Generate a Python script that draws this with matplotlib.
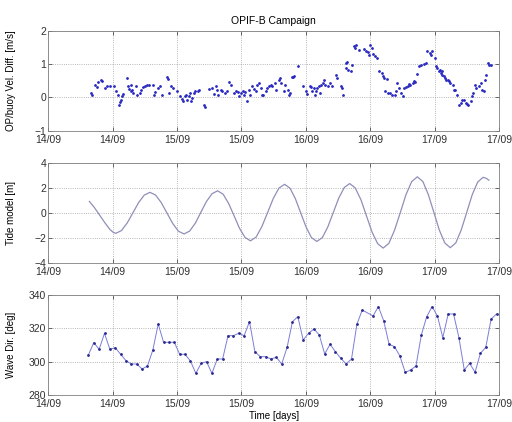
import numpy as np
import matplotlib
matplotlib.use("Agg")
import matplotlib.pyplot as plt

plt.rcParams['font.family'] = ['Liberation Sans', 'DejaVu Sans']

# velocity difference between OP and buoy (time in days of September)
vel_t = [14.33, 14.34, 14.36, 14.38, 14.39, 14.41, 14.42, 14.44, 14.46, 14.48,
         14.51, 14.53, 14.54, 14.55, 14.56, 14.565, 14.57, 14.58, 14.61, 14.62,
         14.63, 14.64, 14.645, 14.65, 14.66, 14.68, 14.69, 14.71, 14.72, 14.74,
         14.75, 14.77, 14.78, 14.81, 14.82, 14.83, 14.85, 14.87, 14.88, 14.92,
         14.93, 14.94, 14.95, 14.97, 15.00, 15.02, 15.04, 15.05,
         15.06, 15.07, 15.08, 15.09, 15.10, 15.11, 15.12, 15.13, 15.14, 15.16,
         15.17, 15.21, 15.22, 15.25, 15.27, 15.29, 15.30, 15.31, 15.32, 15.34,
         15.35, 15.37, 15.39, 15.40, 15.42, 15.44, 15.46, 15.47, 15.48, 15.50,
         15.51, 15.52, 15.53, 15.54, 15.56, 15.57, 15.58, 15.60, 15.61, 15.62,
         15.64, 15.65, 15.66, 15.67, 15.69, 15.70, 15.71, 15.73, 15.74, 15.76,
         15.77, 15.79, 15.80, 15.81, 15.83, 15.84, 15.86, 15.87,
         15.88, 15.89, 15.90, 15.91, 15.94, 15.98, 16.00, 16.01, 16.03, 16.04,
         16.05, 16.06, 16.07, 16.08, 16.09, 16.10, 16.11, 16.12, 16.13, 16.14,
         16.15, 16.17, 16.19, 16.20, 16.23, 16.24, 16.27, 16.28, 16.29, 16.31,
         16.315, 16.32, 16.33, 16.35, 16.355, 16.37, 16.38, 16.39, 16.41, 16.45,
         16.47, 16.48, 16.49, 16.50, 16.51, 16.52, 16.54, 16.55, 16.57, 16.59,
         16.60, 16.61, 16.615, 16.63, 16.635, 16.65, 16.67, 16.69,
         16.70, 16.71, 16.72, 16.74, 16.75, 16.76, 16.78, 16.79, 16.80, 16.81,
         16.83, 16.84, 16.85, 16.86, 16.88, 16.89, 16.92, 16.93, 16.94, 16.96,
         16.97, 16.98, 17.00, 17.01, 17.02, 17.03, 17.04, 17.05, 17.055, 17.06,
         17.07, 17.08, 17.09, 17.10, 17.11, 17.12, 17.14, 17.15, 17.16, 17.17,
         17.19, 17.20, 17.21, 17.23, 17.24, 17.25, 17.26, 17.28, 17.29, 17.30,
         17.31, 17.32, 17.34, 17.36, 17.37, 17.38, 17.39, 17.40, 17.41, 17.42,
         17.44]
vel_v = [0.13, 0.06, 0.38, 0.30, 0.45, 0.53, 0.48, 0.28, 0.35, 0.35,
         0.33, 0.18, 0.06, -0.22, -0.14, -0.07, 0.03, 0.10, 0.58, 0.33,
         0.26, 0.18, 0.38, 0.21, 0.13, 0.33, 0.08, 0.13, 0.23, 0.30,
         0.35, 0.38, 0.38, 0.36, 0.08, 0.16, 0.28, 0.33, 0.08, 0.60,
         0.56, 0.13, 0.33, 0.28, 0.18, 0.03, -0.04, -0.12,
         0.03, 0.08, -0.07, 0.03, 0.13, -0.12, -0.02, 0.13, 0.18, 0.20,
         0.23, -0.22, -0.30, 0.26, 0.28, 0.10, 0.33, 0.23, 0.08, 0.23,
         0.18, 0.13, 0.18, 0.46, 0.38, 0.13, 0.18, 0.16, 0.03, 0.13,
         0.18, 0.08, 0.16, -0.12, 0.23, 0.08, 0.33, 0.25, 0.18, 0.38,
         0.43, 0.28, 0.06, 0.08, 0.18, 0.28, 0.33, 0.38, 0.35, 0.43,
         0.23, 0.53, 0.58, 0.43, 0.18, 0.38, 0.23, 0.08,
         0.13, 0.60, 0.60, 0.63, 0.93, 0.33, 0.18, 0.10, 0.33, 0.30,
         0.18, 0.28, 0.08, 0.18, 0.28, 0.33, 0.13, 0.38, 0.43, 0.53,
         0.38, 0.35, 0.43, 0.33, 0.68, 0.58, 0.33, 0.28, 0.08, 1.03,
         0.88, 1.06, 0.83, 0.78, 0.98, 1.53, 1.48, 1.56, 1.43, 1.46,
         1.38, 1.36, 1.28, 1.56, 1.48, 1.30, 1.23, 1.18, 0.78, 0.73,
         0.63, 0.58, 0.18, 0.56, 0.13, 0.13, 0.08, 0.06,
         0.18, 0.43, 0.28, 0.13, 0.03, 0.28, 0.30, 0.35, 0.40, 0.38,
         0.43, 0.48, 0.46, 0.70, 0.93, 0.98, 1.00, 1.03, 1.38, 1.33,
         1.28, 1.38, 1.18, 0.93, 0.88, 0.78, 0.83, 0.73, 0.78, 0.68,
         0.63, 0.58, 0.53, 0.53, 0.48, 0.43, 0.38, 0.23, 0.23, 0.08,
         -0.22, -0.17, -0.07, -0.07, -0.17, -0.20, -0.22, -0.12, 0.03, 0.13,
         0.38, 0.28, 0.33, 0.43, 0.23, 0.18, 0.53, 0.68, 1.03, 0.98,
         0.98]

# tide model
tide_t = [14.32, 14.36, 14.40, 14.44, 14.48, 14.505, 14.525,
          14.569, 14.613, 14.658, 14.702, 14.746, 14.79,
          14.834, 14.878, 14.923, 14.967, 15.011, 15.055,
          15.098, 15.142, 15.185, 15.228, 15.272, 15.315,
          15.358, 15.400, 15.443, 15.485, 15.528, 15.57,
          15.614, 15.658, 15.703, 15.747, 15.791, 15.835,
          15.877, 15.918, 15.960, 16.002, 16.043, 16.085,
          16.128, 16.170, 16.213, 16.255, 16.298, 16.34,
          16.383, 16.427, 16.470, 16.513, 16.557, 16.60,
          16.644, 16.688, 16.733, 16.777, 16.821, 16.865,
          16.908, 16.950, 16.993, 17.035, 17.078, 17.12,
          17.163, 17.205, 17.248, 17.290, 17.333, 17.375,
          17.40, 17.42]
tide_v = [0.95, 0.45, -0.15, -0.75, -1.30, -1.52, -1.60,
          -1.38, -0.78, 0.04, 0.86, 1.46, 1.68,
          1.46, 0.85, 0.01, -0.82, -1.43, -1.65,
          -1.42, -0.79, 0.08, 0.94, 1.57, 1.80,
          1.53, 0.80, -0.20, -1.20, -1.93, -2.20,
          -1.90, -1.07, 0.06, 1.19, 2.02, 2.32,
          2.01, 1.18, 0.03, -1.11, -1.94, -2.25,
          -1.94, -1.09, 0.07, 1.22, 2.07, 2.38,
          2.03, 1.09, -0.20, -1.49, -2.43, -2.78,
          -2.40, -1.35, 0.07, 1.50, 2.54, 2.92,
          2.54, 1.50, 0.08, -1.33, -2.37, -2.75,
          -2.37, -1.34, 0.07, 1.47, 2.50, 2.88,
          2.80, 2.65]

# wave direction, hourly samples (hour 52 missing)
wave_start = 14.3125
wave_hours = list(range(0, 52)) + list(range(53, 77))
wave_dir = [304, 311.4, 307.4, 317, 307.4, 308.4, 304.4, 300.6, 298.6, 298.6,
            295.6, 297.4, 307, 322.6, 311.6, 311.6, 311.6, 304.4, 304.4, 300.4,
            293, 299, 300, 293, 301.6, 301.6, 315.6, 315.6, 317, 315.6,
            324, 306, 303, 303, 301.6, 302.6, 298.6, 308.6, 324, 327,
            313, 317, 319.6, 316, 304.6, 310.4, 306, 302, 298.6, 301.6,
            322.4, 331,
            327.4, 333, 324.4, 310.4, 309, 303.4, 293.6, 295, 297.4, 316,
            327, 333, 327.4, 314.4, 328.6, 328.6, 314.4, 295, 299, 293.6,
            305, 308.6, 325.6, 328.6]

xticks = [14, 14.5, 15, 15.5, 16, 16.5, 17, 17.5]
xlabels = ['14/09', '14/09', '15/09', '15/09', '16/09', '16/09', '17/09', '17/09']

wave_t = wave_start + np.array(wave_hours) / 24.0

fig = plt.figure(figsize=(5.12, 4.22), dpi=100)
ax1 = fig.add_axes([0.094, 0.690, 0.881, 0.237])
ax2 = fig.add_axes([0.094, 0.376, 0.881, 0.237])
ax3 = fig.add_axes([0.094, 0.064, 0.881, 0.237])

ax1.plot(vel_t, vel_v, '.', color='#2a2ac0', markersize=2.0)
ax1.set_ylim(-1, 2)
ax1.set_yticks([-1, 0, 1, 2])
ax1.set_ylabel('OP/buoy Vel. Diff. [m/s]', fontsize=7)
ax1.set_title('OPIF-B Campaign', fontsize=7.5, pad=5)

ax2.plot(tide_t, tide_v, '-', color='#8f8fb8', linewidth=0.9)
ax2.set_ylim(-4, 4)
ax2.set_yticks([-4, -2, 0, 2, 4])
ax2.set_ylabel('Tide model [m]', fontsize=7)

ax3.plot(wave_t, wave_dir, '-', color='#7c7cd8', linewidth=0.7)
ax3.plot(wave_t, wave_dir, '.', color='#2a2a90', markersize=2.0)
ax3.set_ylim(280, 340)
ax3.set_yticks([280, 300, 320, 340])
ax3.set_ylabel('Wave Dir. [deg]', fontsize=7)
ax3.set_xlabel('Time [days]', fontsize=7, labelpad=1)

for ax in (ax1, ax2, ax3):
    ax.set_xlim(14, 17.5)
    ax.set_xticks(xticks)
    ax.set_xticklabels(xlabels)
    ax.tick_params(direction='in', length=3, width=0.5, labelsize=7.5,
                   colors='#303030', pad=1.5, top=True, right=True)
    ax.tick_params(axis='x', pad=3)
    ax.grid(True, linestyle=':', color='#a0a0a0', linewidth=0.6)
    ax.yaxis.set_label_coords(-0.072, 0.5)
    for s in ax.spines.values():
        s.set_color('#808080')
        s.set_linewidth(0.6)

fig.savefig('out.png', dpi=100)
